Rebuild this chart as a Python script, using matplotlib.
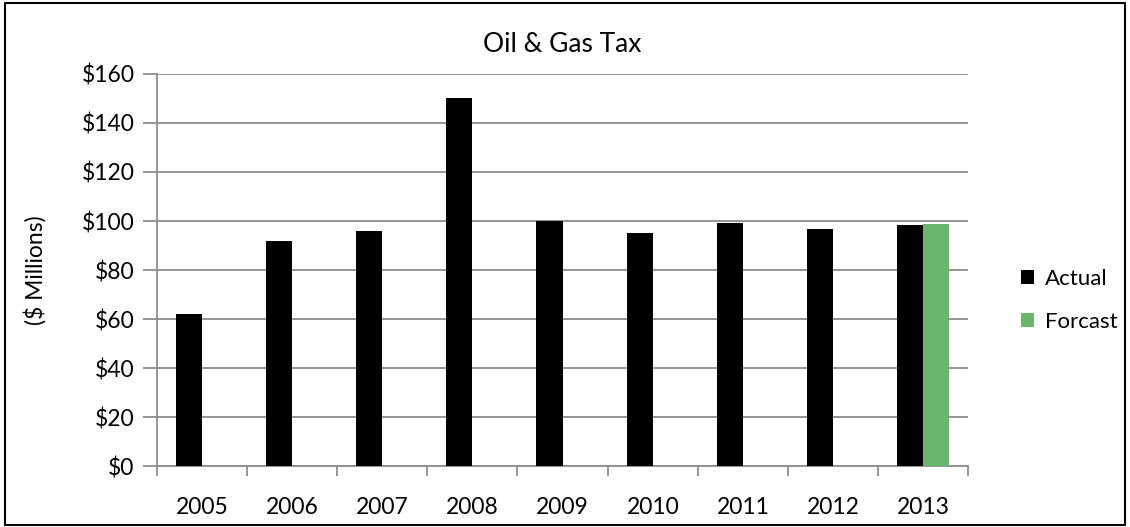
import matplotlib
matplotlib.use("Agg")
import matplotlib.pyplot as plt
import numpy as np
from matplotlib.patches import Rectangle

# data
years = ["2005", "2006", "2007", "2008", "2009", "2010", "2011", "2012", "2013"]
actual = [62, 92, 96, 150, 100, 95.2, 99.3, 96.7, 98.5]
forcast = [np.nan] * 8 + [98.8]
yticks = [0, 20, 40, 60, 80, 100, 120, 140, 160]

plt.rcParams["font.family"] = ["Lato", "DejaVu Sans"]
grey = "#8c8c8c"

fig = plt.figure(figsize=(11.3, 5.27), dpi=100)
ax = fig.add_axes([0.1387, 0.1157, 0.7183, 0.7439])

x = np.arange(len(years))
w = 0.29
ax.bar(x - w / 2, actual, w, color="black", label="Actual", zorder=3)
ax.bar(x + w / 2, forcast, w, color="#6bb66d", label="Forcast", zorder=3)

ax.set_xlim(-0.5, len(years) - 0.5)
ax.set_ylim(0, 160)
ax.set_yticks(yticks)
ax.set_yticklabels(["$" + str(v) for v in yticks], fontsize=16.5)
ax.yaxis.grid(True, color=grey, linewidth=1.3, zorder=0)

# ticks between categories, labels at centres
ax.set_xticks(np.arange(-0.5, len(years), 1.0))
ax.set_xticklabels([])
ax.set_xticks(x, minor=True)
ax.set_xticklabels(years, minor=True, fontsize=16.5)
ax.tick_params(axis="x", which="major", length=7, color=grey, width=1.3)
ax.tick_params(axis="x", which="minor", length=0, pad=22)
ax.tick_params(axis="y", length=10, color=grey, width=1.3, pad=6)

for s in ["top", "right"]:
    ax.spines[s].set_visible(False)
for s in ["left", "bottom"]:
    ax.spines[s].set_color(grey)
    ax.spines[s].set_linewidth(1.3)

ax.set_title("Oil & Gas Tax", fontsize=19, pad=16)
ax.set_ylabel("($ Millions)", fontsize=16.5, labelpad=25)

ax.legend(loc="center left", bbox_to_anchor=(1.04, 0.423), frameon=False,
          fontsize=16, handlelength=0.6, handleheight=0.6,
          handletextpad=0.5, labelspacing=1.05)

fig.patches.append(Rectangle((0.004, 0.004), 0.992, 0.99, transform=fig.transFigure,
                             fill=False, edgecolor="black", linewidth=1.5))

fig.savefig("out.png", dpi=100)
